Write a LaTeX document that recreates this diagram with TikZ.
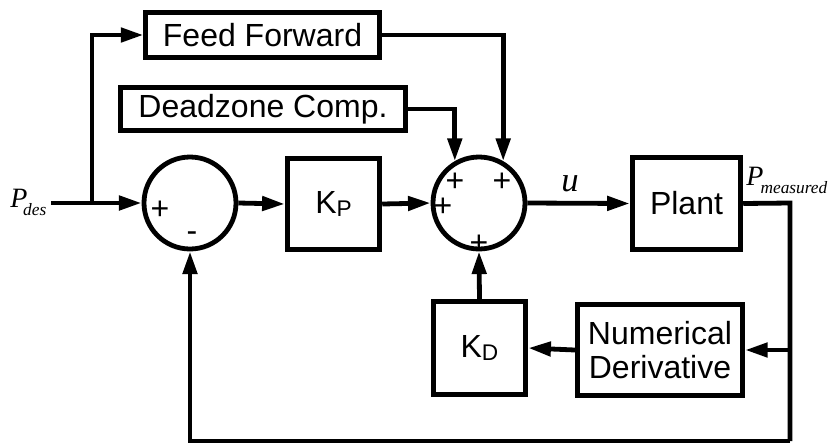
\documentclass[tikz,border=0pt]{standalone}
\usepackage{fontspec}
\setmainfont{Liberation Sans}
\newfontfamily\tms{Liberation Serif}
\usetikzlibrary{arrows.meta,calc}
\begin{document}
\begin{tikzpicture}[x=0.75pt,y=-0.75pt,
  blk/.style={draw, line width=3.6pt, inner sep=0pt, font=\fontsize{24}{28}\selectfont, align=center},
  sumc/.style={circle, draw, line width=3.6pt, minimum size=69pt, inner sep=0pt},
  conn/.style={line width=3.6pt, -{Triangle[length=17pt,width=10.5pt]}},
  wire/.style={line width=3.6pt},
  sgn/.style={font=\fontsize{24}{24}\selectfont, inner sep=0pt},
  lbl/.style={inner sep=0pt}]
\useasboundingbox (0,0) rectangle (833,444);
% blocks
\node[blk, minimum width=175pt, minimum height=34pt] (ff) at (262.5,35) {Feed Forward};
\node[blk, minimum width=213.5pt, minimum height=32.5pt] (dz) at (263,109) {Deadzone Comp.};
\node[sumc] (s1) at (190,203) {};
\node[blk, minimum width=69.5pt, minimum height=68.5pt] (kp) at (333.5,204) {K\raisebox{-0.12em}{\fontsize{17}{17}\selectfont P}};
\node[sumc] (s2) at (479,203) {};
\node[blk, minimum width=81.5pt, minimum height=69.5pt] (pl) at (686.5,203.5) {Plant};
\node[blk, minimum width=124pt, minimum height=68.5pt] (nd) at (660,350) {Numerical\\[-3pt]Derivative};
\node[blk, minimum width=69.5pt, minimum height=69.5pt] (kd) at (479.5,348) {K\raisebox{-0.12em}{\fontsize{17}{17}\selectfont D}};
% signs
\node[sgn] (p1) at (160,210) {+};
\node[sgn] (m1) at (192,237) {-};
\node[sgn] (p2) at (455,182) {+};
\node[sgn] (p3) at (502,182) {+};
\node[sgn] (p4) at (443,207) {+};
\node[sgn] (p5) at (479,244) {+};
% labels
\node[lbl, anchor=base west] (pdes) at (10,207) {\tms\itshape\fontsize{21}{21}\selectfont P\kern-0.15em\raisebox{-0.3em}{\fontsize{13}{13}\selectfont des}};
\node[lbl, anchor=base west] (pmeas) at (746,185) {\tms\itshape\fontsize{21}{21}\selectfont P\kern-0.1em\raisebox{-0.3em}{\fontsize{13}{13}\selectfont measured}};
\node[lbl, anchor=base] (u) at (570,191) {\tms\itshape\fontsize{26}{26}\selectfont u};
% coordinates
\coordinate (in) at (51,203);
\coordinate (br) at (92,203);
\coordinate (out) at (790,203);
\coordinate (nbr) at (790,350);
\coordinate (bot) at (790,441);
% connectors
\draw[wire] (in) -- (br);
\draw[conn] (br) -- (s1.west);
\draw[conn] (br) |- (ff.west);
\draw[conn] (s1.east) -- (kp.west);
\draw[conn] (kp.west -| kp.east) -- (s2.west);
\draw[conn] (ff.east) -| (s2.60);
\draw[conn] (dz.east) -| (s2.120);
\draw[conn] (s2.east) -- (pl.west);
\draw[wire] (pl.east) -- (out) -- (bot);
\draw[conn] (bot) -| (s1.south);
\draw[conn] (nbr) -- (nd.east);
\draw[conn] (nd.west) -- (kd.east);
\draw[conn] (kd.north) -- (s2.south);
\end{tikzpicture}
\end{document}
